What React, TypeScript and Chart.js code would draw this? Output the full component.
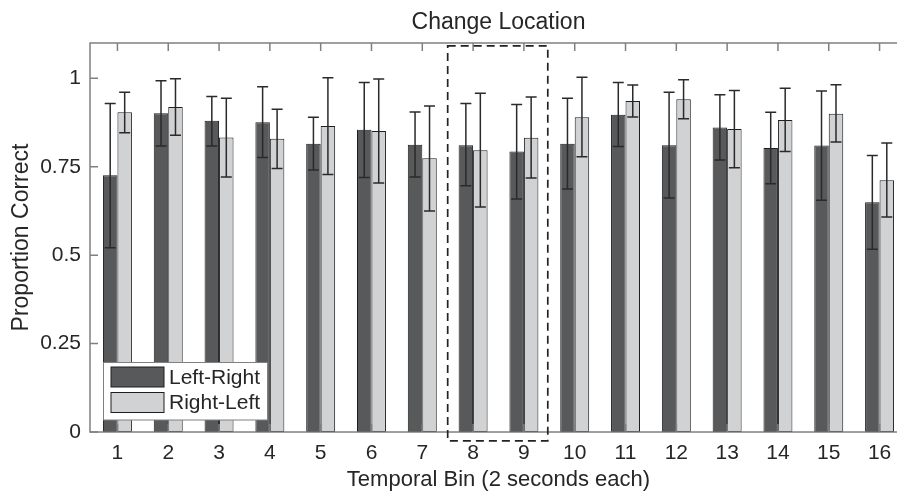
import { useEffect, useRef } from 'react';
import { Chart, registerables } from 'chart.js';

Chart.register(...registerables);

// ---- data ----
const bins = [1, 2, 3, 4, 5, 6, 7, 8, 9, 10, 11, 12, 13, 14, 15, 16];
const seriesNames = ['Left-Right', 'Right-Left'];
const leftRight = [0.726, 0.901, 0.880, 0.876, 0.815, 0.855, 0.812, 0.811, 0.793, 0.815, 0.897, 0.811, 0.861, 0.803, 0.810, 0.650];
const leftRightLow = [0.521, 0.809, 0.809, 0.776, 0.741, 0.720, 0.721, 0.696, 0.659, 0.687, 0.807, 0.662, 0.769, 0.702, 0.655, 0.517];
const leftRightHigh = [0.929, 0.993, 0.949, 0.976, 0.890, 0.988, 0.905, 0.929, 0.926, 0.944, 0.988, 0.961, 0.954, 0.904, 0.964, 0.782];
const rightLeft = [0.904, 0.919, 0.833, 0.829, 0.865, 0.851, 0.774, 0.797, 0.832, 0.890, 0.936, 0.941, 0.857, 0.882, 0.900, 0.712];
const rightLeftLow = [0.846, 0.839, 0.721, 0.745, 0.728, 0.704, 0.625, 0.636, 0.718, 0.778, 0.891, 0.886, 0.747, 0.793, 0.820, 0.608];
const rightLeftHigh = [0.961, 0.999, 0.944, 0.913, 1.002, 0.998, 0.922, 0.958, 0.947, 1.003, 0.981, 0.996, 0.966, 0.972, 0.982, 0.817];
const yTicks = [0, 0.25, 0.5, 0.75, 1];
const yTickLabels = ['0', '0.25', '0.5', '0.75', '1'];
const highlightX = [7.5, 9.47];
const highlightY = [-0.025, 1.092];

const FONT = "'Liberation Sans', Arial, Helvetica, sans-serif";
const TEXT = '#262626';
const AXIS = '#808080';
const DARK = '#58595b';
const LIGHT = '#d1d2d4';
const EDGE = '#1e1e1e';

const matlabPlugin = {
  id: 'matlabLook',
  afterDatasetsDraw(chart: any) {
    const ctx = chart.ctx;
    const ys = chart.scales.y;
    const sets = [
      [leftRightLow, leftRightHigh],
      [rightLeftLow, rightLeftHigh],
    ];
    ctx.save();
    ctx.strokeStyle = '#2a2a2a';
    ctx.lineWidth = 1.5;
    sets.forEach(([lo, hi], di) => {
      const meta = chart.getDatasetMeta(di);
      meta.data.forEach((el: any, i: number) => {
        const x = el.x;
        const yl = ys.getPixelForValue(lo[i]);
        const yh = ys.getPixelForValue(hi[i]);
        const c = 5.5;
        ctx.beginPath();
        ctx.moveTo(x, yl);
        ctx.lineTo(x, yh);
        ctx.moveTo(x - c, yl);
        ctx.lineTo(x + c, yl);
        ctx.moveTo(x - c, yh);
        ctx.lineTo(x + c, yh);
        ctx.stroke();
      });
    });
    ctx.restore();
  },
  afterDraw(chart: any) {
    const ctx = chart.ctx;
    const { left, right, top, bottom } = chart.chartArea;
    const xs = chart.scales.x;
    const ys = chart.scales.y;
    ctx.save();
    // box
    ctx.strokeStyle = AXIS;
    ctx.lineWidth = 1.5;
    ctx.strokeRect(left, top, right - left, bottom - top);
    // inward ticks
    const tl = 8;
    ctx.beginPath();
    bins.forEach((b) => {
      const x = xs.getPixelForValue(b);
      ctx.moveTo(x, bottom);
      ctx.lineTo(x, bottom - tl);
      ctx.moveTo(x, top);
      ctx.lineTo(x, top + tl);
    });
    yTicks.forEach((v) => {
      const y = ys.getPixelForValue(v);
      ctx.moveTo(left, y);
      ctx.lineTo(left + tl, y);
      ctx.moveTo(right, y);
      ctx.lineTo(right - tl, y);
    });
    ctx.stroke();

    // dashed highlight rectangle
    const hx0 = xs.getPixelForValue(highlightX[0]);
    const hx1 = xs.getPixelForValue(highlightX[1]);
    const hy0 = ys.getPixelForValue(highlightY[0]);
    const hy1 = ys.getPixelForValue(highlightY[1]);
    ctx.strokeStyle = '#222222';
    ctx.lineWidth = 1.7;
    ctx.setLineDash([8, 5]);
    ctx.strokeRect(hx0, hy1, hx1 - hx0, hy0 - hy1);
    ctx.setLineDash([]);

    // legend
    const lx = left + 13.5;
    const ly = bottom - 69.5;
    const lw = 164;
    const lh = 57.5;
    ctx.fillStyle = '#ffffff';
    ctx.fillRect(lx, ly, lw, lh);
    ctx.strokeStyle = AXIS;
    ctx.lineWidth = 1;
    ctx.strokeRect(lx, ly, lw, lh);
    const colors = [DARK, LIGHT];
    ctx.font = `21px ${FONT}`;
    ctx.textBaseline = 'middle';
    ctx.textAlign = 'left';
    seriesNames.forEach((name, i) => {
      const sy = ly + 4.5 + i * 25.5;
      ctx.fillStyle = colors[i];
      ctx.fillRect(lx + 7.5, sy, 53, 20);
      ctx.strokeStyle = EDGE;
      ctx.lineWidth = 1;
      ctx.strokeRect(lx + 7.5, sy, 53, 20);
      ctx.fillStyle = TEXT;
      ctx.fillText(name, lx + 65.5, sy + 11);
    });
    ctx.restore();
  },
};

export default function App() {
  const canvasRef = useRef<HTMLCanvasElement | null>(null);

  useEffect(() => {
    document.body.style.margin = '0';
    const canvas = canvasRef.current;
    if (!canvas) return;
    const chart = new Chart(canvas, {
      type: 'bar',
      data: {
        datasets: [
          {
            label: seriesNames[0],
            data: bins.map((b, i) => ({ x: b, y: leftRight[i] })),
            backgroundColor: DARK,
            borderColor: EDGE,
            borderWidth: 1,
            borderSkipped: false,
            categoryPercentage: 0.57,
            barPercentage: 1,
          },
          {
            label: seriesNames[1],
            data: bins.map((b, i) => ({ x: b, y: rightLeft[i] })),
            backgroundColor: LIGHT,
            borderColor: EDGE,
            borderWidth: 1,
            borderSkipped: false,
            categoryPercentage: 0.57,
            barPercentage: 1,
          },
        ],
      } as any,
      options: {
        animation: false,
        responsive: false,
        devicePixelRatio: 1,
        events: [],
        layout: { padding: 0 },
        plugins: {
          legend: { display: false },
          tooltip: { enabled: false },
          title: {
            display: true,
            text: 'Change Location',
            color: TEXT,
            font: { family: FONT, size: 23, weight: 'normal' },
            padding: { top: 9, bottom: 6.4 },
          },
        },
        scales: {
          x: {
            type: 'linear',
            offset: false,
            min: 0.46,
            max: 16.54,
            grid: { display: false, drawTicks: false, offset: false },
            border: { display: false },
            afterBuildTicks: (s: any) => {
              s.ticks = bins.map((v) => ({ value: v }));
            },
            afterFit: (s: any) => {
              s.height = 60;
            },
            ticks: {
              color: TEXT,
              padding: 9,
              font: { family: FONT, size: 21 },
              maxRotation: 0,
              autoSkip: false,
              callback: (v: any) => String(v),
            },
            title: {
              display: true,
              text: 'Temporal Bin (2 seconds each)',
              color: TEXT,
              font: { family: FONT, size: 22 },
              padding: { top: 0, bottom: -1.5 },
            },
          },
          y: {
            min: 0,
            max: 1.1,
            grid: { display: false, drawTicks: false },
            border: { display: false },
            afterBuildTicks: (s: any) => {
              s.ticks = yTicks.map((v) => ({ value: v }));
            },
            afterFit: (s: any) => {
              s.width = 90;
            },
            ticks: {
              color: TEXT,
              padding: 9,
              font: { family: FONT, size: 21 },
              callback: (_v: any, i: number) => yTickLabels[i],
            },
            title: {
              display: true,
              text: 'Proportion Correct',
              color: TEXT,
              font: { family: FONT, size: 23 },
              padding: { top: 8, bottom: 0 },
            },
          },
          yRightSpace: {
            position: 'right',
            min: 0,
            max: 1.1,
            grid: { display: false, drawTicks: false },
            border: { display: false },
            ticks: { display: false },
            afterFit: (s: any) => {
              s.width = 90;
            },
          },
        },
      } as any,
      plugins: [matlabPlugin],
    });
    return () => chart.destroy();
  }, []);

  return (
    <div style={{ width: 897, height: 492, overflow: 'hidden', position: 'relative', background: '#fff' }}>
      <canvas ref={canvasRef} width={997} height={492} style={{ display: 'block' }} />
    </div>
  );
}
